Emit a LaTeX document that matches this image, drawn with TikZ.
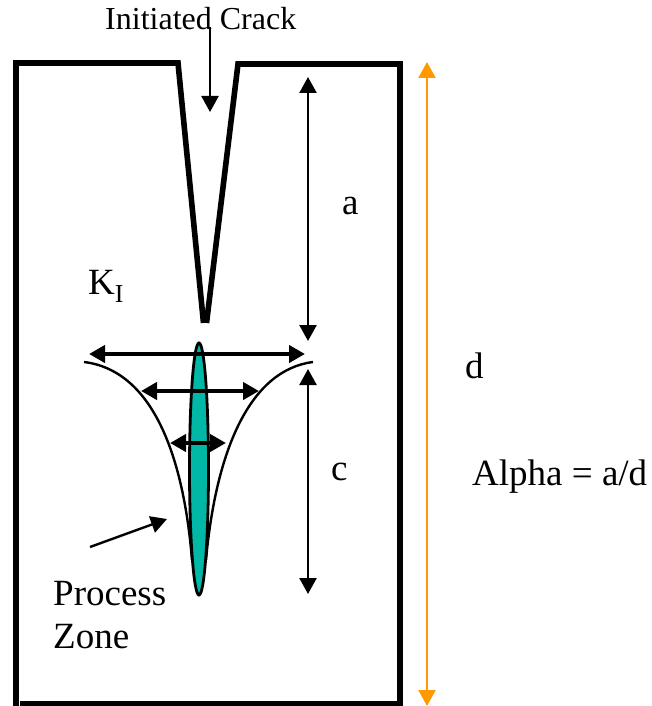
\documentclass[tikz,border=0pt]{standalone}
\usepackage{fontspec}
\setmainfont{Liberation Serif}
\usetikzlibrary{arrows.meta}
\definecolor{tealfill}{HTML}{00B8A5}
\definecolor{orangeline}{HTML}{FF9900}
\tikzset{
  labeltext/.style={font=\fontsize{37}{41}\selectfont, inner sep=0pt, anchor=base west, text=black},
  titletext/.style={font=\fontsize{32}{36}\selectfont, inner sep=0pt, anchor=base west, text=black},
  wall/.style={line width=5.6pt, black, line join=miter},
  thinarrow/.style={line width=2.4pt, black, {Triangle[length=16pt,width=17pt]}-{Triangle[length=16pt,width=17pt]}},
  onearrow/.style={line width=2.4pt, black, -{Triangle[length=16pt,width=17pt]}},
  wideapart/.style={line width=4.6pt, black, {Triangle[length=16pt,width=17pt]}-{Triangle[length=16pt,width=17pt]}},
  lobe/.style={line width=2.4pt, black},
  zonefill/.style={draw=black, line width=2.8pt, fill=tealfill}
}
\begin{document}
\begin{tikzpicture}[x=1pt,y=-1pt]
\useasboundingbox (0,0) rectangle (652,706);
% outline of the specimen
\draw[wall] (16,706) -- (16,63) -- (178,63) -- (203.5,323);
\draw[wall] (206.5,323) -- (238,64) -- (400,64) -- (400,703);
\draw[wall] (20,704) -- (403,704);
% plastic-zone lobes
\coordinate (lobeL) at (84,362);
\coordinate (lobeR) at (313,362);
\draw[lobe] (lobeL) .. controls (150,370) and (183,450) .. (192,560);
\draw[lobe] (lobeR) .. controls (250,370) and (216,450) .. (206,560);
% process zone
\draw[zonefill] (199,469) ellipse [x radius=9.5, y radius=126];
% width arrows
\coordinate (w1a) at (89,354); \coordinate (w1b) at (305,354);
\coordinate (w2a) at (141,391); \coordinate (w2b) at (259,391);
\coordinate (w3a) at (170,443); \coordinate (w3b) at (226,443);
\draw[wideapart] (w1a) -- (w1b);
\draw[wideapart] (w2a) -- (w2b);
\draw[wideapart] (w3a) -- (w3b);
% dimension arrows
\coordinate (a1) at (308,77); \coordinate (a2) at (308,341);
\coordinate (c1) at (308,369); \coordinate (c2) at (308,594);
\coordinate (d1) at (427,62); \coordinate (d2) at (427,706);
\draw[thinarrow] (a1) -- (a2);
\draw[thinarrow] (c1) -- (c2);
\draw[line width=2.4pt, orangeline, {Triangle[length=16pt,width=17pt]}-{Triangle[length=16pt,width=17pt]}] (d1) -- (d2);
% labels
\node[titletext] (crack) at (105,30) {Initiated Crack};
\node[labeltext] (alab) at (342,214) {a};
\node[labeltext] (dlab) at (465,378) {d};
\node[labeltext] (clab) at (331,480) {c};
\node[labeltext] (alpha) at (472,485) {Alpha = a/d};
\node[labeltext] (ki) at (88,294) {K\textsubscript{I}};
\node[labeltext] (proc) at (53,605) {Process};
\node[labeltext] (zone) at (53,648) {Zone};
% pointers
\coordinate (crackstart) at (210,27); \coordinate (crackend) at (210,112);
\coordinate (pzstart) at (90,547); \coordinate (pzend) at (167,519);
\draw[onearrow] (crackstart) -- (crackend);
\draw[onearrow] (pzstart) -- (pzend);
\end{tikzpicture}
\end{document}
